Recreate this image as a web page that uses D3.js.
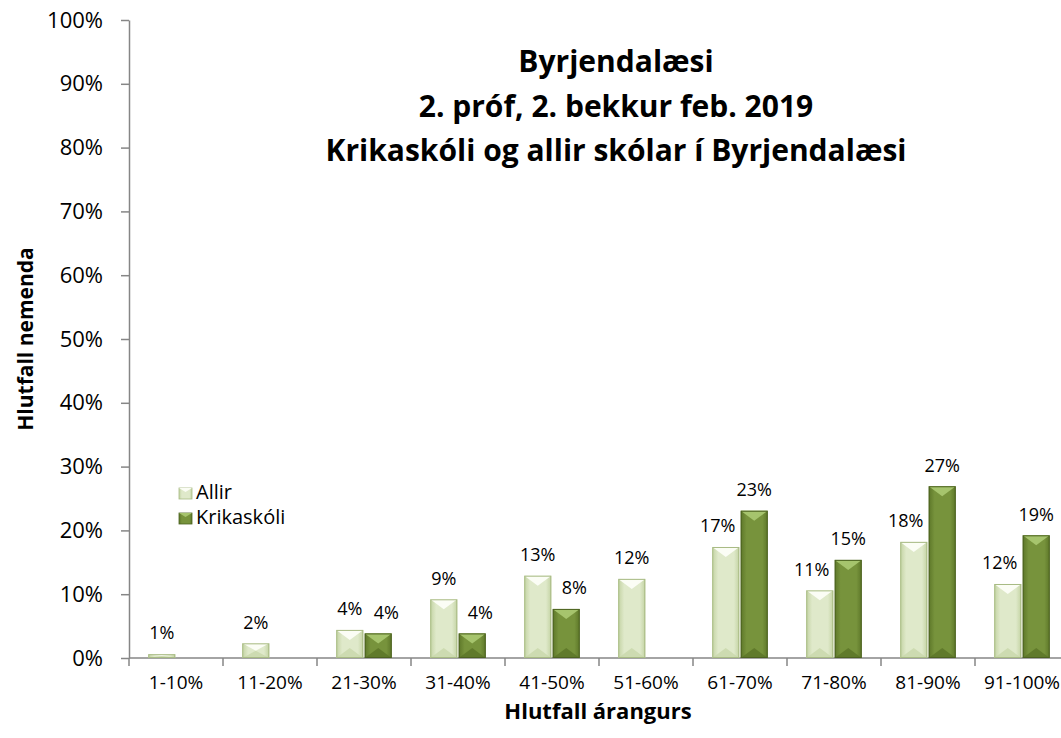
<!DOCTYPE html>
<html>
<head>
<meta charset="utf-8">
<script src="https://cdn.jsdelivr.net/npm/d3@7"></script>
<style>
  body { margin: 0; background: #fff; }
  svg { display: block; }
  text { font-family: "Open Sans", Carlito, Calibri, sans-serif; fill: #000; }
</style>
</head>
<body>
<svg></svg>
<script>
// values (Krikaskóli looks like n = 26)
const categories = ["1-10%", "11-20%", "21-30%", "31-40%", "41-50%", "51-60%", "61-70%", "71-80%", "81-90%", "91-100%"];
const seriesNames = ["Allir", "Krikaskóli"];
const allir = [0.006, 0.023, 0.044, 0.092, 0.129, 0.124, 0.174, 0.106, 0.182, 0.116];
const krikaskoli = [null, null, 0.0385, 0.0385, 0.0769, null, 0.2308, 0.1538, 0.2692, 0.1923];
const yTicks = [0, 0.1, 0.2, 0.3, 0.4, 0.5, 0.6, 0.7, 0.8, 0.9, 1];
const titleLines = ["Byrjendalæsi", "2. próf, 2. bekkur feb. 2019", "Krikaskóli og allir skólar í Byrjendalæsi"];

const svgWidth = 1061;
const svgHeight = 738;
const plot = {left: 129, right: 1069, top: 20, bottom: 658};
const axisColor = "#868686";

const svg = d3.select("svg")
    .attr("width", svgWidth)
    .attr("height", svgHeight);

// bevel colours: body, edge, top facet, bottom facet, outline
const palette = {
    "Allir":      {body: "#dfe9ca", edge: "#c3d3a3", top: "#fbfdf5", bottom: "#c8d7aa", line: "#a8bb84"},
    "Krikaskóli": {body: "#77933c", edge: "#5d7729", top: "#a6c46d", bottom: "#5a7427", line: "#4c6220"}
};

const defs = svg.append("defs");
seriesNames.forEach((s, i) => {
    const c = palette[s];
    const gr = defs.append("linearGradient").attr("id", "g" + i)
        .attr("x1", 0).attr("x2", 1).attr("y1", 0).attr("y2", 0);
    gr.append("stop").attr("offset", "0%").attr("stop-color", c.edge);
    gr.append("stop").attr("offset", "22%").attr("stop-color", c.body);
    gr.append("stop").attr("offset", "80%").attr("stop-color", c.body);
    gr.append("stop").attr("offset", "100%").attr("stop-color", c.edge);
});

const y = d3.scaleLinear().domain([0, 1]).range([plot.bottom, plot.top]);

const x = d3.scaleBand()
    .domain(categories)
    .range([plot.left, plot.right])
    .paddingInner(0.41)
    .paddingOuter(0.205);

const xs = d3.scaleBand()
    .domain(seriesNames)
    .range([0, x.bandwidth()])
    .paddingInner(0.05);

// y axis
const yAxis = svg.append("g")
    .attr("transform", "translate(" + plot.left + ",0)")
    .call(d3.axisLeft(y).tickValues(yTicks).tickFormat(d3.format(".0%"))
        .tickSize(8).tickSizeOuter(0).tickPadding(18));
yAxis.select(".domain").attr("stroke", axisColor).attr("stroke-width", 1.5);
yAxis.selectAll(".tick line").attr("stroke", axisColor).attr("stroke-width", 1.5);
yAxis.selectAll(".tick text").attr("font-size", 22).attr("font-family", null);

// x axis: labels centred, ticks on the category boundaries
const xAxis = svg.append("g")
    .attr("transform", "translate(0," + plot.bottom + ")")
    .call(d3.axisBottom(x).tickSize(0).tickPadding(18));
xAxis.select(".domain").remove();
xAxis.selectAll(".tick text").attr("font-size", 19).attr("font-family", null);

const gap = (x.step() - x.bandwidth()) / 2;
const bounds = categories.map(c => x(c) - gap).concat([x(categories[categories.length - 1]) + x.bandwidth() + gap]);
xAxis.selectAll(".bound").data(bounds).enter().append("line")
    .attr("class", "bound")
    .attr("x1", d => d).attr("x2", d => d)
    .attr("y1", 0).attr("y2", 8)
    .attr("stroke", axisColor).attr("stroke-width", 1.5);
xAxis.append("line")
    .attr("x1", plot.left).attr("x2", plot.right)
    .attr("y1", 0).attr("y2", 0)
    .attr("stroke", axisColor).attr("stroke-width", 1.5);

// bars
const rows = categories.map((c, i) => ({cat: c, values: [allir[i], krikaskoli[i]]}));

const bars = [];
rows.forEach(r => {
    r.values.forEach((v, j) => {
        if (v == null) return;
        const other = r.values[1 - j];
        // Excel nudges the shorter bar's label outwards
        let nudge = 0;
        if (other != null && other > v) nudge = j === 0 ? -8 : 8;
        bars.push({cat: r.cat, series: seriesNames[j], idx: j, value: v, nudge: nudge});
    });
});

const bar = svg.append("g").selectAll(".bar")
    .data(bars)
    .enter().append("g")
    .attr("class", "bar");

bar.each(function(d) {
    const g = d3.select(this);
    const c = palette[d.series];
    const x0 = x(d.cat) + xs(d.series);
    const w = xs.bandwidth();
    const x1 = x0 + w;
    const xm = x0 + w / 2;
    const y0 = y(d.value);
    const yb = y(0);
    const h = yb - y0;
    const dep = Math.min(10, h / 2);

    g.append("rect")
        .attr("x", x0).attr("y", y0)
        .attr("width", w).attr("height", h)
        .attr("fill", "url(#g" + d.idx + ")");
    g.append("path")
        .attr("d", "M" + x0 + "," + y0 + "L" + x1 + "," + y0 + "L" + xm + "," + (y0 + dep) + "Z")
        .attr("fill", c.top);
    g.append("path")
        .attr("d", "M" + x0 + "," + yb + "L" + x1 + "," + yb + "L" + xm + "," + (yb - dep) + "Z")
        .attr("fill", c.bottom).attr("opacity", 0.8);
    g.append("rect")
        .attr("x", x0 + 0.5).attr("y", y0 + 0.5)
        .attr("width", w - 1).attr("height", Math.max(0, h - 1))
        .attr("fill", "none")
        .attr("stroke", c.line).attr("stroke-width", 1);
});

bar.append("text")
    .attr("x", d => x(d.cat) + xs(d.series) + xs.bandwidth() / 2 + d.nudge)
    .attr("y", d => y(d.value) - 21)
    .attr("dy", "0.35em")
    .attr("text-anchor", "middle")
    .attr("font-size", 18)
    .text(d => d3.format(".0%")(d.value));

// legend
const legend = svg.append("g").selectAll(".legend")
    .data(seriesNames)
    .enter().append("g")
    .attr("class", "legend")
    .attr("transform", (d, i) => "translate(179," + (488 + i * 25) + ")");

legend.append("rect")
    .attr("width", 13).attr("height", 11)
    .attr("fill", (d, i) => "url(#g" + i + ")")
    .attr("stroke", d => palette[d].line).attr("stroke-width", 0.8);
legend.append("path")
    .attr("d", "M0,0L13,0L6.5,4Z")
    .attr("fill", d => palette[d].top);
legend.append("text")
    .attr("x", 17).attr("y", 11)
    .attr("font-size", 20)
    .text(d => d);

// titles
svg.append("g").selectAll("text")
    .data(titleLines)
    .enter().append("text")
    .attr("x", 616)
    .attr("y", (d, i) => 72 + i * 44.5)
    .attr("text-anchor", "middle")
    .attr("font-size", 30)
    .attr("font-weight", "bold")
    .text(d => d);

svg.append("text")
    .attr("x", 598).attr("y", 719)
    .attr("text-anchor", "middle")
    .attr("font-size", 22)
    .attr("font-weight", "bold")
    .text("Hlutfall árangurs");

svg.append("text")
    .attr("transform", "translate(33,339) rotate(-90)")
    .attr("text-anchor", "middle")
    .attr("font-size", 21)
    .attr("font-weight", "bold")
    .text("Hlutfall nemenda");
</script>
</body>
</html>
